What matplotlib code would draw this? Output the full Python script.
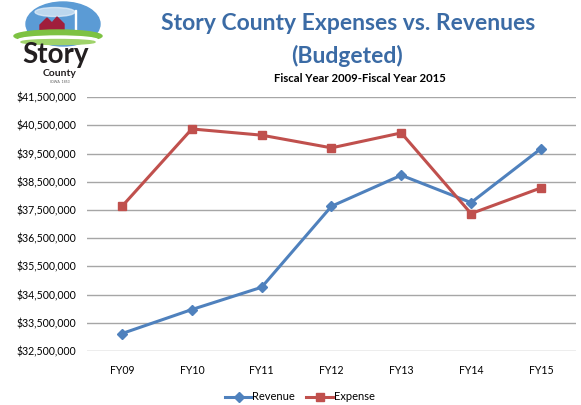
import numpy as np
import matplotlib
matplotlib.use("Agg")
import matplotlib.pyplot as plt
from matplotlib.patches import Polygon, Ellipse, Rectangle
from matplotlib.ticker import FuncFormatter

plt.rcParams['font.family'] = ['Lato', 'DejaVu Sans']

years = ["FY09", "FY10", "FY11", "FY12", "FY13", "FY14", "FY15"]
revenue = [33120000, 33970000, 34760000, 37630000, 38730000, 37760000, 39670000]
expense = [37630000, 40370000, 40150000, 39700000, 40230000, 37370000, 38280000]
yticks = [32500000 + 1000000 * k for k in range(10)]

blue = "#4F81BD"
red = "#C0504D"

fig = plt.figure(figsize=(5.81, 4.05), dpi=100)
ax = fig.add_axes([0.150, 0.1333, 0.841, 0.627])

x = np.arange(len(years))
ax.plot(x, revenue, color=blue, lw=2.2, marker="D", ms=5, label="Revenue")
ax.plot(x, expense, color=red, lw=2.2, marker="s", ms=6.2, label="Expense")

ax.set_xlim(-0.5, len(years) - 0.5)
ax.set_ylim(yticks[0], yticks[-1])
ax.set_yticks(yticks)
ax.yaxis.set_major_formatter(FuncFormatter(lambda v, p: "${:,.0f}".format(v)))
ax.set_xticks(x)
ax.set_xticklabels(years)
ax.tick_params(axis="both", length=0, labelsize=7.6, colors="#000000", pad=10)
ax.tick_params(axis="y", pad=8)
ax.grid(axis="y", color="#A6A6A6", lw=1)
ax.set_axisbelow(True)
for s in ax.spines.values():
    s.set_visible(False)

fig.legend(loc="center", bbox_to_anchor=(0.516, 0.02), ncol=2, frameon=False,
           fontsize=8, handlelength=2.4, handletextpad=0.05, columnspacing=1.0)

fig.text(0.599, 0.941, "Story County Expenses vs. Revenues", ha="center", va="center",
         fontsize=16.5, fontweight="bold", color="#3B6BA5")
fig.text(0.597, 0.861, "(Budgeted)", ha="center", va="center",
         fontsize=16.5, fontweight="bold", color="#3B6BA5")
fig.text(0.620, 0.805, "Fiscal Year 2009-Fiscal Year 2015", ha="center", va="center",
         fontsize=8.2, fontweight="bold", color="#000000")

# simple logo, drawn in pixel coordinates of the top-left corner
lg = fig.add_axes([0, 1 - 90 / 405, 140 / 581, 90 / 405])
lg.set_xlim(0, 140)
lg.set_ylim(90, 0)
lg.axis("off")
lg.add_patch(Ellipse((63, 24), 74, 44, color="#5B9BD5"))
lg.add_patch(Ellipse((55, 12), 40, 9, color="#E8F1FA", alpha=0.7))
lg.add_patch(Rectangle((75, 10), 1.2, 22, color="#FFFFFF"))
lg.add_patch(Polygon([[40, 36], [40, 25], [47, 18], [52, 23], [57, 17], [64, 24], [64, 36]], color="#A01E3C"))
lg.add_patch(Ellipse((58, 36), 88, 12, color="#7DC242"))
lg.add_patch(Ellipse((58, 40), 80, 8, color="#FFFFFF"))
lg.add_patch(Ellipse((58, 42), 74, 5, color="#9FD36A"))
lg.text(56, 55, "Story", ha="center", va="center", fontsize=20, fontweight="bold", color="#231F20")
lg.text(60, 73.5, "County", ha="center", va="center", fontsize=7.5, fontweight="bold", color="#231F20")
lg.text(60, 82, "IOWA  1853", ha="center", va="center", fontsize=2.5, color="#555555")

fig.savefig("out.png", dpi=100)
